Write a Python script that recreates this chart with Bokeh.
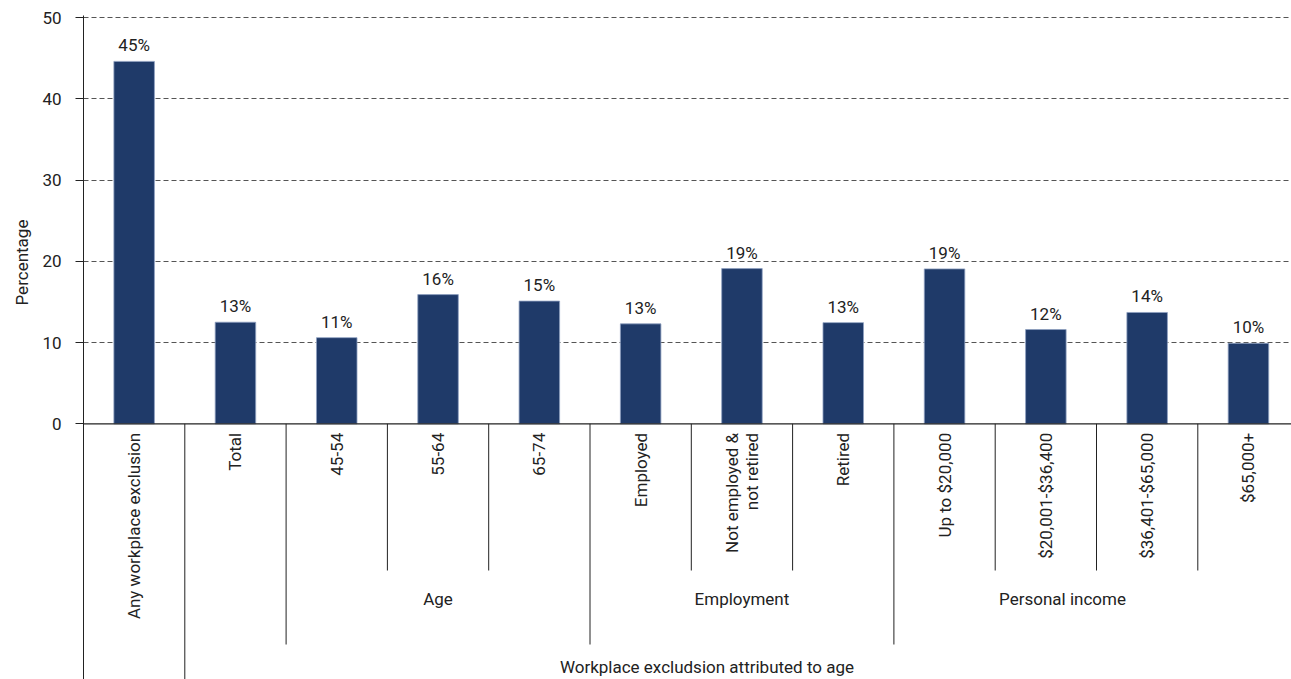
import math
from bokeh.plotting import figure
from bokeh.models import FixedTicker, Span, ColumnDataSource, Range1d, Title
from bokeh.core.properties import value
from bokeh.embed import file_html
from bokeh.resources import INLINE

# ---------------- data ----------------
categories = ["Any workplace exclusion", "Total", "45-54", "55-64", "65-74",
              "Employed", "Not employed &\nnot retired", "Retired",
              "Up to $20,000", "$20,001-$36,400", "$36,401-$65,000", "$65,000+"]
values = [44.6, 12.5, 10.6, 15.9, 15.1, 12.3, 19.1, 12.45, 19.06, 11.6, 13.7, 9.9]
value_labels = ["45%", "13%", "11%", "16%", "15%", "13%", "19%", "13%",
                "19%", "12%", "14%", "10%"]
group_names = ["Age", "Employment", "Personal income"]
group_sizes = [3, 3, 4]
group_start = 2
outer_name = "Workplace excludsion attributed to age"
outer_start = 1
y_ticks = [0, 10, 20, 30, 40, 50]
y_title = "Percentage"

# ---------------- style ----------------
FONT = "Roboto"
FS = "17px"
TXT = "#222222"
BAR = "#1f3a69"
W, H = 1291, 679
LEFT, TOP = 83, 15
SLOT = 101.3
ZERO_PX = 423.3
px_per_unit = (ZERO_PX - 17) / 50.0
y_top = 50 + (17 - TOP) / px_per_unit
y0 = y_top - (H - TOP) / px_per_unit
x_end = (W - LEFT) / SLOT

def ypx(py):  # screen y -> data y
    return (ZERO_PX - py) / px_per_unit

p = figure(width=W, height=H, output_backend="svg", toolbar_location=None,
           x_range=Range1d(0, x_end), y_range=Range1d(y0, y_top),
           min_border_left=LEFT, min_border_top=TOP, min_border_bottom=0,
           min_border_right=0)
p.outline_line_color = None
p.background_fill_color = "white"
p.xaxis.visible = False
p.xgrid.visible = False

p.yaxis.ticker = FixedTicker(ticks=y_ticks)
p.yaxis.major_tick_out = 8
p.yaxis.major_tick_in = 0
p.yaxis.minor_tick_line_color = None
p.yaxis.axis_line_color = "#222222"
p.yaxis.major_tick_line_color = "#222222"
p.yaxis.major_label_text_font = FONT
p.yaxis.major_label_text_font_size = FS
p.yaxis.major_label_text_color = TXT
p.yaxis.major_label_standoff = 14

p.ygrid.ticker = FixedTicker(ticks=[t for t in y_ticks if t > 0])
p.ygrid.grid_line_color = "#555555"
p.ygrid.grid_line_dash = "5 3"
p.ygrid.grid_line_width = 1

p.add_layout(Title(text=y_title, align="left", offset=374, text_font=FONT,
                   text_font_size=FS, text_font_style="normal",
                   text_color=TXT, standoff=15), "left")

xs = [i + 0.5 for i in range(len(categories))]
src = ColumnDataSource(dict(x=xs, top=values, lab=value_labels, cat=categories))

p.vbar(x="x", top="top", width=0.4, bottom=0, source=src,
       fill_color=BAR, line_color="#8e9fc0", line_width=0.8)

p.add_layout(Span(location=0, dimension="width", line_color="#222222", line_width=1.2))

p.text(x="x", y="top", text="lab", source=src, text_align="center",
       text_baseline="alphabetic", y_offset=-16, text_font=value(FONT),
       text_font_size=FS, text_color=TXT)

p.text(x="x", y=0, text="cat", source=src, angle=math.pi / 2,
       text_align="right", text_baseline="middle", y_offset=9,
       text_font=value(FONT), text_font_size=FS, text_color=TXT,
       text_line_height=1.0)

# separators
inner_d, group_d, outer_d = ypx(570), ypx(644), y0
bounds, depths = [], []
group_bounds = [group_start]
acc = group_start
for s in group_sizes:
    acc += s
    group_bounds.append(acc)
for b in range(1, len(categories)):
    bounds.append(b)
    if b == outer_start:
        depths.append(outer_d)
    elif b in group_bounds:
        depths.append(group_d)
    else:
        depths.append(inner_d)
p.segment(x0=bounds, x1=bounds, y0=[0] * len(bounds), y1=depths,
          line_color="#222222", line_width=1)

# group labels
gx = []
acc = group_start
for s in group_sizes:
    gx.append(acc + s / 2)
    acc += s
g_off = [0, 0, -34]
p.text(x=gx, y=[ypx(598)] * len(gx), text=group_names, x_offset=g_off,
       text_align="center", text_baseline="middle", text_font=value(FONT),
       text_font_size=FS, text_color=TXT)

p.text(x=[(outer_start + len(categories)) / 2], y=[ypx(666)], text=[outer_name],
       x_offset=[-35], text_align="center", text_baseline="middle",
       text_font=value(FONT), text_font_size=FS, text_color=TXT)

open("out.html", "w").write(file_html(p, INLINE))
